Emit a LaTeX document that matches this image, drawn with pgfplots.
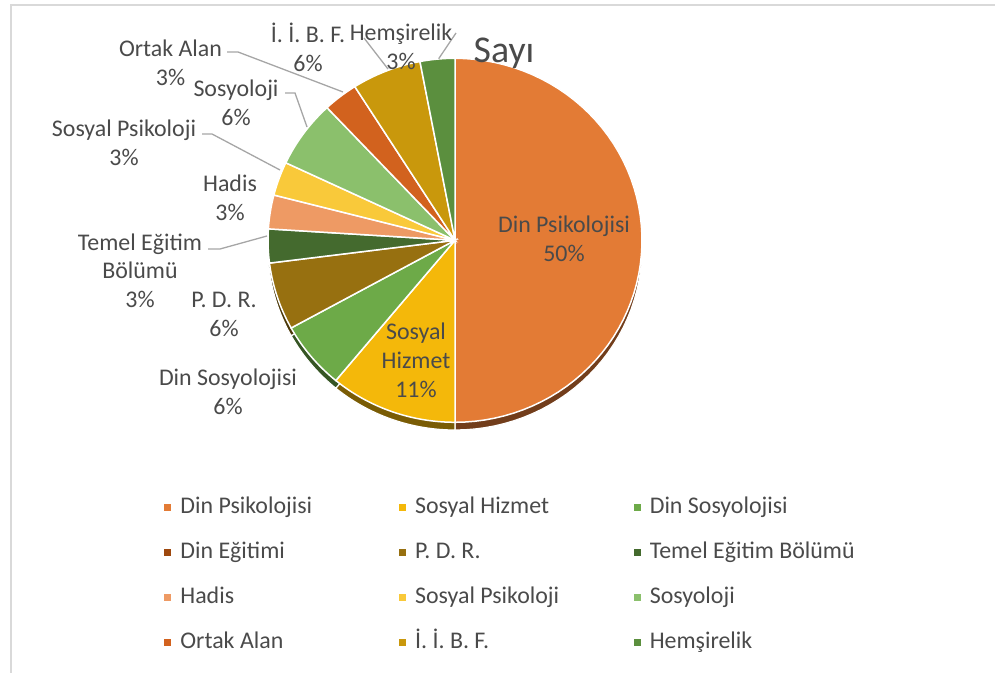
\documentclass[border=0pt]{standalone}
\usepackage{pgfplots}
\pgfplotsset{compat=1.18}
\usepackage{pgfplotstable}
\usepackage{fontspec}
\setmainfont{Carlito}

\definecolor{c0}{HTML}{E37B35}
\definecolor{c1}{HTML}{F4B80A}
\definecolor{c2}{HTML}{6DAA48}
\definecolor{c3}{HTML}{9E480E}
\definecolor{c4}{HTML}{977010}
\definecolor{c5}{HTML}{446A2E}
\definecolor{c6}{HTML}{EE9A64}
\definecolor{c7}{HTML}{F9C93A}
\definecolor{c8}{HTML}{8BC06C}
\definecolor{c9}{HTML}{D2621E}
\definecolor{c10}{HTML}{C9980C}
\definecolor{c11}{HTML}{5B8F3E}
\definecolor{txt}{HTML}{4A4A4A}
\definecolor{lead}{HTML}{A6A6A6}
\definecolor{frame}{HTML}{D9D9D9}

% share in percent, same order as the legend
\pgfplotstableread{
idx share
0 50
1 11
2 6
3 0
4 6
5 3
6 3
7 3
8 6
9 3
10 6
11 3
}\piedata

\newcommand\lbl{\fontsize{24}{29}\selectfont}

\begin{document}
\begin{tikzpicture}
% start/end angle of each slice, clockwise from 12 o'clock
\xdef\cum{0}
\foreach \i in {0,...,11}{
  \pgfplotstablegetelem{\i}{share}\of\piedata
  \pgfmathsetmacro\b{\cum+3.6*\pgfplotsretval}
  \expandafter\xdef\csname sa\i\endcsname{\cum}
  \expandafter\xdef\csname sb\i\endcsname{\b}
  \xdef\cum{\b}
}
\begin{axis}[
  width=995bp, height=673bp, scale only axis,
  xmin=0, xmax=995, ymin=-673, ymax=0,
  hide axis, clip=false,
  legend columns=3, legend cell align=left,
  legend image code/.code={\fill[#1, draw=none] (0bp,-3.5bp) rectangle (7bp,3.5bp); \path (16bp,0bp);},
  legend style={at={(0.16503,0.26345)}, anchor=north west, draw=none, fill=none,
    inner sep=0pt, outer sep=0pt, row sep=20.8bp, column sep=0pt, font=\lbl, text=txt,
    nodes={inner sep=0pt, text height=18bp, text depth=6bp}},
]
% chart frame
\draw[frame, line width=2bp] (axis cs:11,-673) -- (axis cs:11,-5) -- (axis cs:995,-5);

% 3d rim below the pie
\pgfplotsinvokeforeach{0,...,11}{
  \ifdim\csname sb#1\endcsname pt>\csname sa#1\endcsname pt
  \addplot[forget plot, fill=c#1!50!black, draw=white, line width=1.2bp,
    domain=\csname sa#1\endcsname:\csname sb#1\endcsname, samples=60]
    ({455+187*sin(x)},{-248+182*cos(x)}) -- (axis cs:455,-248) -- cycle;
  \fi
}
% top face
\pgfplotsinvokeforeach{0,...,11}{
  \ifdim\csname sb#1\endcsname pt>\csname sa#1\endcsname pt
  \addplot[forget plot, fill=c#1, draw=white, line width=1.5bp,
    domain=\csname sa#1\endcsname:\csname sb#1\endcsname, samples=60]
    ({455+187*sin(x)},{-240.3+182*cos(x)}) -- (axis cs:455,-240.3) -- cycle;
  \fi
}

% leader lines
\draw[lead, line width=1.3bp] (axis cs:456,-33) -- (axis cs:438.7,-58.7);
\draw[lead, line width=1.3bp] (axis cs:364,-38) -- (axis cs:388,-69);
\draw[lead, line width=1.3bp] (axis cs:227,-52) -- (axis cs:238,-52) -- (axis cs:343,-92);
\draw[lead, line width=1.3bp] (axis cs:285,-93) -- (axis cs:295,-93) -- (axis cs:307,-127);
\draw[lead, line width=1.3bp] (axis cs:202,-134) -- (axis cs:212,-134) -- (axis cs:280,-170);
\draw[lead, line width=1.3bp] (axis cs:208,-249) -- (axis cs:220,-249) -- (axis cs:267,-236);

% data labels
\begin{scope}[every node/.style={font=\lbl, text=txt, align=center, inner sep=0pt}]
\node at (axis cs:564,-238.5) {Din Psikolojisi\\50\%};
\node at (axis cs:416,-360) {Sosyal\\Hizmet\\11\%};
\node at (axis cs:228,-391.5) {Din Sosyolojisi\\6\%};
\node at (axis cs:224,-314) {P. D. R.\\6\%};
\node at (axis cs:140,-270.7) {Temel Eğitim\\Bölümü\\3\%};
\node at (axis cs:230,-198) {Hadis\\3\%};
\node at (axis cs:124,-142.5) {Sosyal Psikoloji\\3\%};
\node at (axis cs:236,-102.5) {Sosyoloji\\6\%};
\node at (axis cs:170.5,-62.5) {Ortak Alan\\3\%};
\node at (axis cs:308,-47) {İ. İ. B. F.\\6\%};
\node at (axis cs:401,-47) {Hemşirelik\\3\%};
\end{scope}
\node[font=\fontsize{38}{44}\selectfont, text=txt, anchor=base, inner sep=0pt] at (axis cs:504,-63) {Sayı};

% legend
\addlegendimage{fill=c0}\addlegendentry{\makebox[218.5bp][l]{Din Psikolojisi}}
\addlegendimage{fill=c1}\addlegendentry{\makebox[218.5bp][l]{Sosyal Hizmet}}
\addlegendimage{fill=c2}\addlegendentry{\makebox[218.5bp][l]{Din Sosyolojisi}}
\addlegendimage{fill=c3}\addlegendentry{\makebox[218.5bp][l]{Din Eğitimi}}
\addlegendimage{fill=c4}\addlegendentry{\makebox[218.5bp][l]{P. D. R.}}
\addlegendimage{fill=c5}\addlegendentry{\makebox[218.5bp][l]{Temel Eğitim Bölümü}}
\addlegendimage{fill=c6}\addlegendentry{\makebox[218.5bp][l]{Hadis}}
\addlegendimage{fill=c7}\addlegendentry{\makebox[218.5bp][l]{Sosyal Psikoloji}}
\addlegendimage{fill=c8}\addlegendentry{\makebox[218.5bp][l]{Sosyoloji}}
\addlegendimage{fill=c9}\addlegendentry{\makebox[218.5bp][l]{Ortak Alan}}
\addlegendimage{fill=c10}\addlegendentry{\makebox[218.5bp][l]{İ. İ. B. F.}}
\addlegendimage{fill=c11}\addlegendentry{\makebox[218.5bp][l]{Hemşirelik}}

\coordinate (bl) at (axis cs:0,-673);
\coordinate (tr) at (axis cs:995,0);
\end{axis}
\pgfresetboundingbox
\useasboundingbox (bl) rectangle (tr);
\end{tikzpicture}
\end{document}
